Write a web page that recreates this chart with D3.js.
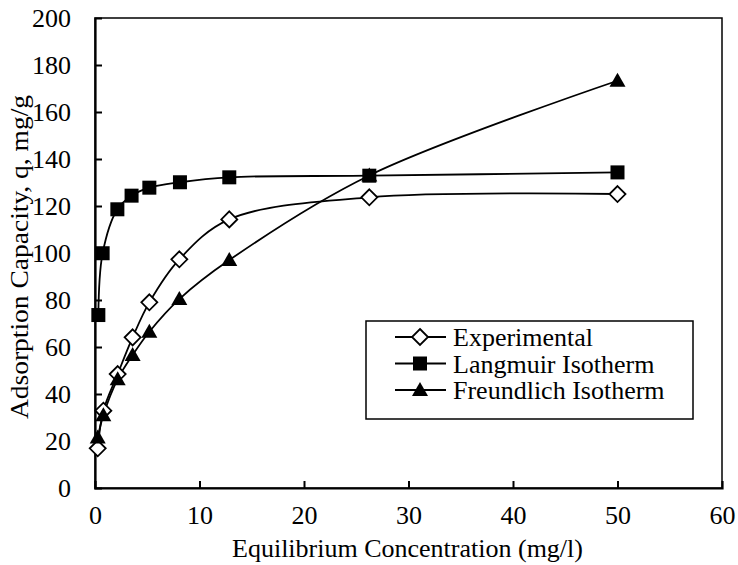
<!DOCTYPE html>
<html><head><meta charset="utf-8">
<script src="https://cdn.jsdelivr.net/npm/d3@7"></script>
<style>body{margin:0;background:#fff}svg{display:block}</style>
</head><body><svg id="c" width="738" height="565"></svg>
<script>
const expX = [0.26, 0.8, 2.17, 3.6, 5.2, 8.07, 12.85, 26.25, 50];
const expY = [16.9, 32.9, 48.5, 64.1, 79.0, 97.3, 114.3, 123.7, 125.1];
const langX = [0.32, 0.73, 2.14, 3.5, 5.2, 8.13, 12.85, 26.25, 50];
const langY = [73.6, 99.9, 118.6, 124.4, 127.8, 130.1, 132.2, 132.9, 134.3];
const freX = [0.26, 0.8, 2.17, 3.6, 5.2, 8.07, 12.85, 26.25, 50];
const freY = [21.5, 31, 46.3, 56.6, 66.5, 80.4, 97.0, 133, 173.3];
const xTicks = [0, 10, 20, 30, 40, 50, 60];
const yTicks = [0, 20, 40, 60, 80, 100, 120, 140, 160, 180, 200];
const seriesNames = ["Experimental", "Langmuir Isotherm", "Freundlich Isotherm"];

const FONT = '"Liberation Serif"';
const svg = d3.select("#c");
const L = 95, R = 722, T = 18, B = 488;
const x = d3.scaleLinear().domain([0, 60]).range([L, R]);
const y = d3.scaleLinear().domain([0, 200]).range([B, T]);

svg.append("rect").attr("x", L).attr("y", T).attr("width", R - L).attr("height", B - T)
  .attr("fill", "none").attr("stroke", "#000").attr("stroke-width", 1.5);

const xAxis = svg.append("g").attr("transform", `translate(0,${B})`)
  .call(d3.axisBottom(x).tickValues(xTicks).tickSize(-7).tickPadding(18).tickFormat(d3.format("d")));
const yAxis = svg.append("g").attr("transform", `translate(${L},0)`)
  .call(d3.axisLeft(y).tickValues(yTicks).tickSize(-7).tickPadding(24).tickFormat(d3.format("d")));
[xAxis, yAxis].forEach(g => {
  g.attr("font-family", FONT).attr("font-size", 26);
  g.select(".domain").attr("stroke", "#000").attr("stroke-width", 2.2);
  g.selectAll(".tick line").attr("stroke", "#000").attr("stroke-width", 2);
  g.selectAll(".tick text").attr("fill", "#000").style("font-family", FONT).style("font-size", "26px");
});
xAxis.selectAll(".tick text").attr("dy", "0.71em");
xAxis.selectAll(".tick").filter(d => d === 0 || d === 60).select("line").remove();
yAxis.selectAll(".tick").filter(d => d === 0 || d === 200).select("line").remove();

svg.append("text").attr("x", (L + R) / 2 - 1).attr("y", 557).attr("text-anchor", "middle")
  .style("font-family", FONT).style("font-size", "26px").text("Equilibrium Concentration (mg/l)");
svg.append("text").attr("transform", "translate(28,257) rotate(-90) scale(1.1,1)").attr("text-anchor", "middle")
  .style("font-family", FONT).style("font-size", "25px").text("Adsorption Capacity, q, mg/g");

const line = d3.line().x(d => x(d[0])).y(d => y(d[1])).curve(d3.curveCatmullRom.alpha(0.5));
const sets = [d3.zip(expX, expY), d3.zip(langX, langY), d3.zip(freX, freY)];
sets.forEach(s => svg.append("path").attr("d", line(s)).attr("fill", "none")
  .attr("stroke", "#000").attr("stroke-width", 1.8));

function marker(g, type, cx, cy) {
  if (type === 0) {
    g.append("path").attr("d", `M${cx},${cy-8}L${cx+8},${cy}L${cx},${cy+8}L${cx-8},${cy}Z`)
      .attr("fill", "#fff").attr("stroke", "#000").attr("stroke-width", 1.8);
  } else if (type === 1) {
    g.append("rect").attr("x", cx - 7).attr("y", cy - 7).attr("width", 14).attr("height", 14).attr("fill", "#000");
  } else {
    g.append("path").attr("d", `M${cx},${cy-8}L${cx+8},${cy+6}L${cx-8},${cy+6}Z`).attr("fill", "#000");
  }
}
const mg = svg.append("g");
sets.forEach((s, i) => s.forEach(d => marker(mg, i, x(d[0]), y(d[1]))));

const lg = svg.append("g");
lg.append("rect").attr("x", 366).attr("y", 321).attr("width", 327).attr("height", 98)
  .attr("fill", "#fff").attr("stroke", "#000").attr("stroke-width", 1.5);
seriesNames.forEach((n, i) => {
  const yy = 337 + i * 26.5;
  lg.append("line").attr("x1", 395).attr("x2", 446).attr("y1", yy).attr("y2", yy)
    .attr("stroke", "#000").attr("stroke-width", 1.8);
  marker(lg, i, 420, yy);
  lg.append("text").attr("x", 453).attr("y", yy + 9)
    .style("font-family", FONT).style("font-size", "26px").text(n);
});
</script></body></html>
